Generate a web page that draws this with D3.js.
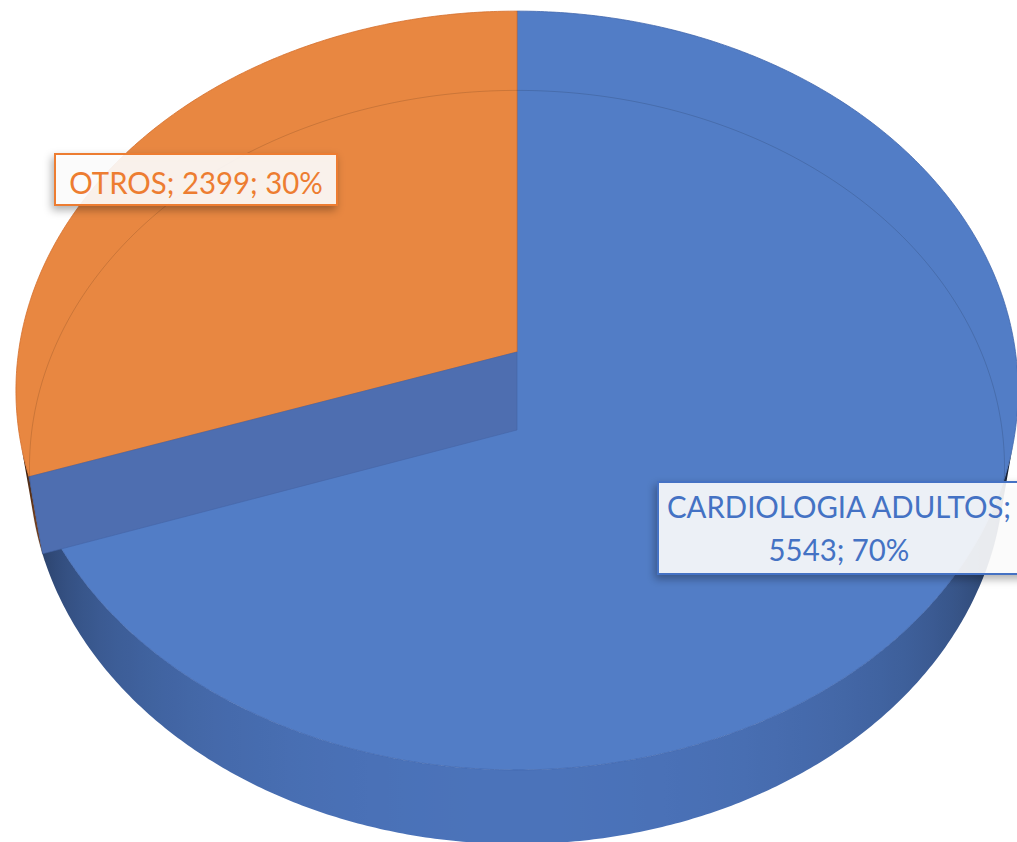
<!DOCTYPE html>
<html>
<head>
<meta charset="utf-8">
<script src="https://cdn.jsdelivr.net/npm/d3@7/dist/d3.min.js"></script>
<style>
  body { margin: 0; background: #fff; }
  svg { display: block; }
</style>
</head>
<body>
<svg id="chart"></svg>
<script>
'use strict';
// data
var categories = ['CARDIOLOGIA ADULTOS', 'OTROS'];
var values = [5543, 2399];

var canvasWidth = 1017;
var canvasHeight = 842;

var svg = d3.select('#chart')
    .attr('width', canvasWidth)
    .attr('height', canvasHeight);

var topColor = d3.scaleOrdinal().domain(categories).range(['#527dc6', '#e88741']);
var edgeColor = d3.scaleOrdinal().domain(categories).range(['#4167ad', '#d46f2c']);
var wallColor = d3.scaleOrdinal().domain(categories).range(['#4b73ba', '#d97638']);
var textColor = d3.scaleOrdinal().domain(categories).range(['#4472c4', '#ed7d31']);

// simple perspective camera for the 3D pie (radius 1)
var cam = {
    cx: 517, cy: 352,
    fx: 3260, fy: 3283,
    dist: 6.54,
    sin: 0.748, cos: 0.664,
    depth: 0.2404
};

function project(a, y) {
    var x = Math.sin(a), z = Math.cos(a);
    var yc = y * cam.cos + z * cam.sin;
    var zc = cam.dist + z * cam.cos - y * cam.sin;
    return [cam.cx + cam.fx * x / zc, cam.cy - cam.fy * yc / zc];
}
function center(y) {
    var yc = y * cam.cos;
    var zc = cam.dist - y * cam.sin;
    return [cam.cx, cam.cy - cam.fy * yc / zc];
}

var pie = d3.pie().sort(null).value(function (d) { return d; });
var arcs = pie(values);
var total = d3.sum(values);
var line = d3.line();
var step = Math.PI / 360;

function rimPoints(a0, a1, y) {
    var pts = [];
    var n = Math.max(2, Math.ceil((a1 - a0) / step));
    for (var i = 0; i <= n; i++) {
        pts.push(project(a0 + (a1 - a0) * i / n, y));
    }
    return pts;
}

var defs = svg.append('defs');
var shadow = defs.append('filter').attr('id', 'shadow')
    .attr('x', '-20%').attr('y', '-30%').attr('width', '140%').attr('height', '170%');
shadow.append('feDropShadow')
    .attr('dx', -2).attr('dy', 4).attr('stdDeviation', 4)
    .attr('flood-color', '#000').attr('flood-opacity', 0.35);

var pieG = svg.append('g');

// side wall, shaded by how much it faces the viewer
var minCos = -1 / (cam.dist * cam.cos);
var xScale = d3.scaleLinear().domain([0, canvasWidth]).range([0, 1]);
function shade(a) {
    var t = Math.max(0, (-Math.cos(a) + minCos) / (1 + minCos));
    return 0.28 + 0.72 * Math.pow(t, 0.5);
}
arcs.forEach(function (d, i) {
    var name = categories[i];
    var base = d3.rgb(wallColor(name));
    // visible part of this slice's rim: cos(a) < minCos
    var lo = Math.PI - Math.acos(-minCos), hi = Math.PI + Math.acos(-minCos);
    var a0 = Math.max(d.startAngle, lo), a1 = Math.min(d.endAngle, hi);
    if (a1 <= a0) return;
    var n = 80;
    var stops = d3.range(n + 1).map(function (k) {
        var a = a0 + (a1 - a0) * k / n;
        var s = shade(a);
        return {
            offset: xScale(project(a, -cam.depth / 2)[0]),
            color: d3.rgb(base.r * s, base.g * s, base.b * s).toString()
        };
    }).sort(function (p, q) { return p.offset - q.offset; });
    var gid = 'wall' + i;
    defs.append('linearGradient').attr('id', gid)
        .attr('gradientUnits', 'userSpaceOnUse')
        .attr('x1', 0).attr('x2', canvasWidth).attr('y1', 0).attr('y2', 0)
        .selectAll('stop')
        .data(stops)
        .enter()
        .append('stop')
        .attr('offset', function (p) { return p.offset; })
        .attr('stop-color', function (p) { return p.color; });
    var pts = rimPoints(a0, a1, 0).concat(rimPoints(a0, a1, -cam.depth).reverse());
    pieG.append('path')
        .attr('d', line(pts) + 'Z')
        .attr('fill', 'url(#' + gid + ')');
});

// top faces
pieG.selectAll('path.top')
    .data(arcs)
    .enter()
    .append('path')
    .attr('class', 'top')
    .attr('d', function (d) {
        return line([center(0)].concat(rimPoints(d.startAngle, d.endAngle, 0))) + 'Z';
    })
    .attr('fill', function (d, i) { return topColor(categories[i]); })
    .attr('stroke', function (d, i) { return edgeColor(categories[i]); })
    .attr('stroke-width', 0.8);

// radial wall at the cut between the slices, seen through the front slice
var cut = arcs[0].endAngle;
pieG.append('path')
    .attr('d', line([center(0), project(cut, 0), project(cut, -cam.depth), center(-cam.depth)]) + 'Z')
    .attr('fill', '#4e6eb0')
    .attr('stroke', '#4565a6')
    .attr('stroke-width', 0.6);

// far rim of the bottom face showing faintly through the top
pieG.append('path')
    .attr('d', line(rimPoints(cut - 0.02, 2 * Math.PI + 1.95, -cam.depth)))
    .attr('fill', 'none')
    .attr('stroke', '#000')
    .attr('stroke-opacity', 0.13)
    .attr('stroke-width', 1);

// data labels
var fontFamily = 'Lato, "Open Sans", sans-serif';
var fontSize = 31;
function pct(v) { return Math.round(v / total * 100) + '%'; }

var labels = [
    { i: 0, box: [658, 482, 372, 92], cx: 839, lines: [categories[0] + ';', values[0] + '; ' + pct(values[0])], base: [518, 561] },
    { i: 1, box: [55, 154, 282, 51], cx: 196, lines: [categories[1] + '; ' + values[1] + '; ' + pct(values[1])], base: [194] }
];

// Calibri is narrower than Lato: squeeze glyphs so the long line spans its measured width
function textWidth(t) {
    var probe = svg.append('text').attr('font-family', fontFamily).attr('font-size', fontSize).text(t);
    var w = probe.node().getComputedTextLength();
    probe.remove();
    return w;
}
var squeeze = 344 / textWidth(labels[0].lines[0]);

var labelG = svg.append('g');
labels.forEach(function (l) {
    var name = categories[l.i];
    var g = labelG.append('g');
    g.append('rect')
        .attr('x', l.box[0]).attr('y', l.box[1])
        .attr('width', l.box[2]).attr('height', l.box[3])
        .attr('fill', '#fff').attr('fill-opacity', 0.88)
        .attr('stroke', textColor(name)).attr('stroke-width', 2)
        .attr('filter', 'url(#shadow)');
    l.lines.forEach(function (t, j) {
        g.append('text')
            .attr('x', l.cx).attr('y', l.base[j])
            .attr('text-anchor', 'middle')
            .attr('font-family', fontFamily)
            .attr('font-size', fontSize)
            .attr('textLength', textWidth(t) * squeeze)
            .attr('lengthAdjust', 'spacingAndGlyphs')
            .attr('fill', textColor(name))
            .text(t);
    });
});
</script>
</body>
</html>
